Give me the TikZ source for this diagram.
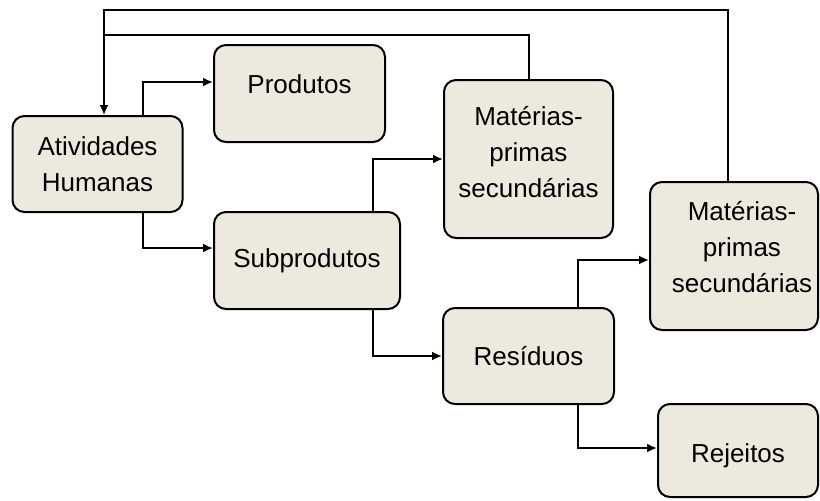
\documentclass[tikz,border=0pt]{standalone}
\usepackage{fontspec}
\setmainfont{Liberation Sans}
\usetikzlibrary{arrows.meta, positioning}

\definecolor{boxfill}{RGB}{236,233,223}

\tikzset{
    box/.style={draw, line width=1pt, rounded corners=6pt, fill=boxfill,
        align=center, inner sep=2pt,
        font=\fontsize{13}{18}\selectfont},
    arr/.style={line width=1pt, -{Latex[length=5pt, width=4.5pt]}},
    link/.style={line width=1pt}
}

\begin{document}
\begin{tikzpicture}[x=0.5pt, y=-0.5pt]
    \useasboundingbox (0,0) rectangle (820,500);

    % Define the boxes
    \node[box, minimum width=85pt, minimum height=48pt] (ativ) at (97.5, 164) {Atividades\\Humanas};
    \node[box, minimum width=85.5pt, minimum height=48.5pt, text depth=9pt] (prod) at (299.5, 93.5) {Produtos};
    \node[box, minimum width=93pt, minimum height=48.5pt] (sub) at (307, 260.5) {Subprodutos};
    \node[box, minimum width=84.5pt, minimum height=79pt, text depth=7pt] (mat1) at (528.5, 159) {Matérias-\\primas\\secundárias};
    \node[box, minimum width=84pt, minimum height=74pt, text depth=9pt] (mat2) at (734, 256)
        {\hspace*{8pt}Matérias-\\\hspace*{8pt}primas\\\hspace*{8pt}secundárias};
    \node[box, minimum width=85.5pt, minimum height=48pt] (res) at (528.5, 356) {Resíduos};
    \node[box, minimum width=80pt, minimum height=46.5pt, text height=15pt] (rej) at (738, 450.5) {Rejeitos};

    % Levels of the return lines
    \coordinate (top1) at (0, 10);
    \coordinate (top2) at (0, 35);

    % Draw the forward connectors
    \draw[arr] ([xshift=22.75pt]ativ.north) |- ([yshift=5.75pt]prod.west);
    \draw[arr] ([xshift=22.75pt]ativ.south) |- ([yshift=6.25pt]sub.west);
    \draw[arr] ([xshift=33pt]sub.north) |- (mat1.west);
    \draw[arr] ([xshift=33pt]sub.south) |- (res.west);
    \draw[arr] ([xshift=24.75pt]res.north) |- ([yshift=-2pt]mat2.west);
    \draw[arr] ([xshift=24.75pt]res.south) |- ([yshift=1.25pt]rej.west);

    % Draw the return connectors
    \draw[arr] ([xshift=-3pt]mat2.north) |- ([xshift=3.25pt]ativ.north |- top1)
        -- ([xshift=3.25pt]ativ.north);
    \draw[link] (mat1.north) |- ([xshift=3.25pt]ativ.north |- top2);
\end{tikzpicture}
\end{document}
